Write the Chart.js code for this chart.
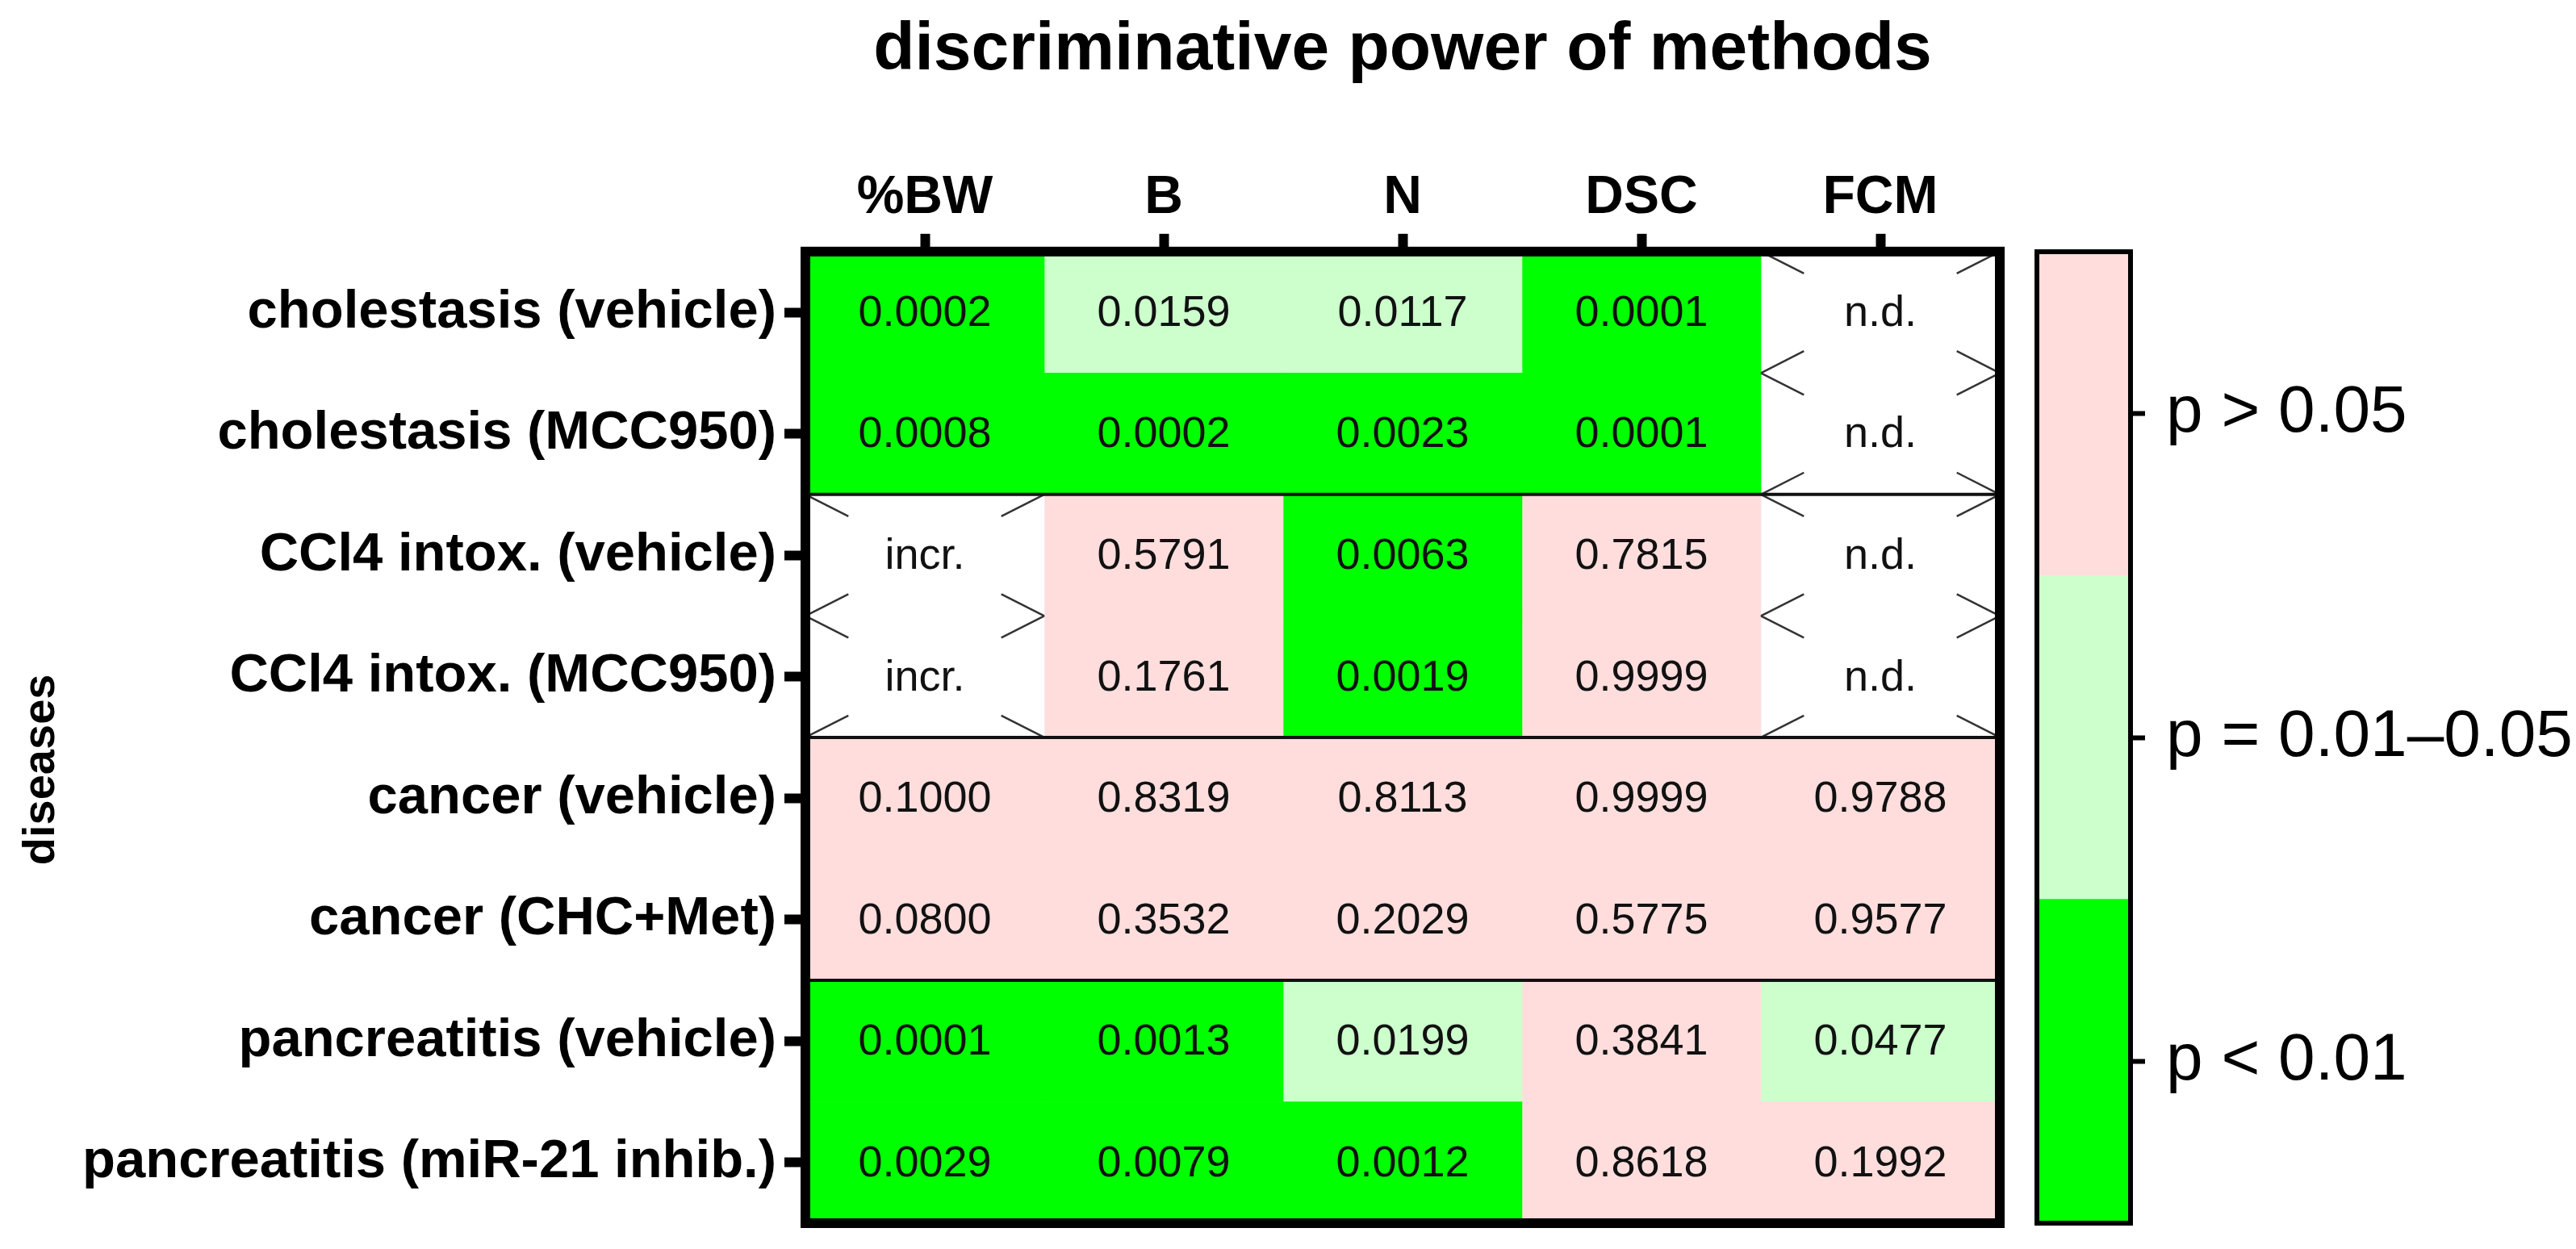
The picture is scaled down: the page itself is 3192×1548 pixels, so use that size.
<!DOCTYPE html>
<html>
<head>
<meta charset="utf-8">
<script src="https://cdn.jsdelivr.net/npm/chart.js@4.4.1/dist/chart.umd.min.js"></script>
<style>
  html, body { margin: 0; padding: 0; background: #fff; }
  #wrap { position: relative; width: 3192px; height: 1548px; }
  #wrap canvas { position: absolute; left: 0; top: 0; }
</style>
</head>
<body>
<div id="wrap">
  <canvas id="chartHeat" width="3192" height="1548"></canvas>
  <canvas id="chartBar" width="3192" height="1548"></canvas>
</div>
<script>
// Datos del heatmap (filas = enfermedades, columnas = métodos)
const diseases = [
  'cholestasis (vehicle)',
  'cholestasis (MCC950)',
  'CCl4 intox. (vehicle)',
  'CCl4 intox. (MCC950)',
  'cancer (vehicle)',
  'cancer (CHC+Met)',
  'pancreatitis (vehicle)',
  'pancreatitis (miR-21 inhib.)'
];
const methods = ['%BW', 'B', 'N', 'DSC', 'FCM'];

const pBW  = [0.0002, 0.0008, null,   null,   0.1000, 0.0800, 0.0001, 0.0029];
const pB   = [0.0159, 0.0002, 0.5791, 0.1761, 0.8319, 0.3532, 0.0013, 0.0079];
const pN   = [0.0117, 0.0023, 0.0063, 0.0019, 0.8113, 0.2029, 0.0199, 0.0012];
const pDSC = [0.0001, 0.0001, 0.7815, 0.9999, 0.9999, 0.5775, 0.3841, 0.8618];
const pFCM = [null,   null,   null,   null,   0.9788, 0.9577, 0.0477, 0.1992];

// textos para celdas sin valor
const noteBW  = [null, null, 'incr.', 'incr.', null, null, null, null];
const noteFCM = ['n.d.', 'n.d.', 'n.d.', 'n.d.', null, null, null, null];

// separadores después de estas filas
const groupBreaks = [1, 3, 5];

// leyenda (de abajo hacia arriba)
const legendLabels = ['p < 0.01', 'p = 0.01\u20130.05', 'p > 0.05'];
const legendBands = [[0, 1], [1, 2], [2, 3]];

const pSeries = [pBW, pB, pN, pDSC, pFCM];
const noteSeries = [noteBW, null, null, null, noteFCM];

const COLORS = {
  strong: '#00ff00',
  weak: '#ccffcc',
  none: '#ffdddd',
  missing: '#ffffff'
};
const legendColors = [COLORS.strong, COLORS.weak, COLORS.none];

const FONT = "'Liberation Sans', Arial, sans-serif";
Chart.defaults.font.family = FONT;
Chart.defaults.color = '#000';

function colorPorP(p) {
  if (p === null) return COLORS.missing;
  if (p < 0.01) return COLORS.strong;
  if (p <= 0.05) return COLORS.weak;
  return COLORS.none;
}

/**
 * Textos, cruces y marco del heatmap
 */
const heatPlugin = {
  id: 'heatPlugin',
  afterDatasetsDraw(chart) {
    const ctx = chart.ctx;
    const area = chart.chartArea;
    const yScale = chart.scales.y;

    chart.data.datasets.forEach((ds, i) => {
      const meta = chart.getDatasetMeta(i);
      meta.data.forEach((bar, k) => {
        const { x, y, base, height } = bar.getProps(['x', 'y', 'base', 'height'], true);
        const left = Math.min(x, base);
        const right = Math.max(x, base);
        const top = y - height / 2;
        const bottom = y + height / 2;
        const cx = (left + right) / 2;
        const p = pSeries[i][k];
        let texto;

        if (p === null) {
          texto = noteSeries[i] ? noteSeries[i][k] : '';
          // brazos de la cruz en las esquinas
          const f = 0.18;
          const esquinas = [[left, top, right, bottom], [right, top, left, bottom],
                            [left, bottom, right, top], [right, bottom, left, top]];
          ctx.save();
          ctx.strokeStyle = '#333';
          ctx.lineWidth = 2.5;
          esquinas.forEach(([x0, y0, x1, y1]) => {
            ctx.beginPath();
            ctx.moveTo(x0, y0);
            ctx.lineTo(x0 + (x1 - x0) * f, y0 + (y1 - y0) * f);
            ctx.stroke();
          });
          ctx.restore();
        } else {
          texto = p.toFixed(4);
        }

        ctx.save();
        ctx.fillStyle = '#111';
        ctx.font = `54px ${FONT}`;
        ctx.textAlign = 'center';
        ctx.textBaseline = 'middle';
        ctx.fillText(texto, cx, y + 2);
        ctx.restore();
      });
    });

    // líneas separadoras entre grupos
    ctx.save();
    ctx.strokeStyle = '#111';
    ctx.lineWidth = 4;
    groupBreaks.forEach(k => {
      const yb = (yScale.getPixelForValue(k) + yScale.getPixelForValue(k + 1)) / 2;
      ctx.beginPath();
      ctx.moveTo(area.left, yb);
      ctx.lineTo(area.right + 4, yb);
      ctx.stroke();
    });
    ctx.restore();
  },
  afterDraw(chart) {
    const ctx = chart.ctx;
    const a = chart.chartArea;
    ctx.save();
    ctx.strokeStyle = '#000';
    ctx.lineWidth = 12;
    ctx.strokeRect(a.left, a.top, a.right - a.left, a.bottom - a.top);

    // título del eje Y (algo por debajo del centro, como en el original)
    ctx.translate(52, (a.top + a.bottom) / 2 + 40);
    ctx.rotate(-Math.PI / 2);
    ctx.fillStyle = '#000';
    ctx.font = `bold 56px ${FONT}`;
    ctx.textAlign = 'center';
    ctx.textBaseline = 'middle';
    ctx.fillText('diseases', 0, 0);
    ctx.restore();
  }
};

const framePlugin = {
  id: 'framePlugin',
  afterDraw(chart) {
    const ctx = chart.ctx;
    const a = chart.chartArea;
    ctx.save();
    ctx.strokeStyle = '#000';
    ctx.lineWidth = 6;
    ctx.strokeRect(a.left, a.top, a.right - a.left, a.bottom - a.top);
    ctx.restore();
  }
};

// Heatmap principal (barras flotantes horizontales)
const chartHeat = new Chart(document.getElementById('chartHeat'), {
  type: 'bar',
  data: {
    labels: diseases,
    datasets: methods.map((m, i) => ({
      label: m,
      data: diseases.map(() => [i - 0.5, i + 0.5]),
      backgroundColor: pSeries[i].map(colorPorP),
      borderWidth: 0,
      grouped: false,
      barPercentage: 1,
      categoryPercentage: 1
    }))
  },
  options: {
    indexAxis: 'y',
    responsive: false,
    animation: false,
    devicePixelRatio: 1,
    layout: { padding: { top: 0, right: 714, bottom: 32, left: 0 } },
    plugins: {
      legend: { display: false },
      tooltip: { enabled: false },
      title: {
        display: true,
        text: 'discriminative power of methods',
        fullSize: false,
        font: { size: 84, weight: 'bold' },
        color: '#000',
        padding: { top: 12, bottom: 12 }
      }
    },
    scales: {
      x: {
        type: 'linear',
        position: 'top',
        min: -0.5,
        max: 4.5,
        afterBuildTicks: s => { s.ticks = methods.map((m, i) => ({ value: i })); },
        afterFit: s => {
          s.height = 187;
          s.paddingLeft = 0;
          s.paddingRight = 0;
        },
        ticks: {
          callback: v => methods[v],
          font: { size: 66, weight: 'bold' },
          color: '#000',
          padding: 4,
          maxRotation: 0,
          autoSkip: false
        },
        grid: { drawOnChartArea: false, tickLength: 22, tickWidth: 12, tickColor: '#000' },
        border: { display: false }
      },
      y: {
        type: 'category',
        afterFit: s => {
          s.width = 998;
          s.paddingTop = 0;
          s.paddingBottom = 0;
        },
        ticks: {
          font: { size: 67, weight: 'bold' },
          color: '#000',
          padding: 10,
          autoSkip: false
        },
        grid: { offset: false, drawOnChartArea: false, tickLength: 26, tickWidth: 12, tickColor: '#000' },
        border: { display: false }
      }
    }
  },
  plugins: [heatPlugin]
});

// Barra de colores (leyenda)
const chartBar = new Chart(document.getElementById('chartBar'), {
  type: 'bar',
  data: {
    labels: [''],
    datasets: legendBands.map((b, i) => ({
      label: legendLabels[i],
      data: [b],
      backgroundColor: legendColors[i],
      borderWidth: 0,
      grouped: false,
      barPercentage: 1,
      categoryPercentage: 1
    }))
  },
  options: {
    responsive: false,
    animation: false,
    devicePixelRatio: 1,
    layout: { padding: { top: 312, right: 0, bottom: 32, left: 2524 } },
    plugins: { legend: { display: false }, tooltip: { enabled: false } },
    scales: {
      x: { display: false },
      y: {
        type: 'linear',
        position: 'right',
        min: 0,
        max: 3,
        afterBuildTicks: s => { s.ticks = legendBands.map(b => ({ value: (b[0] + b[1]) / 2 })); },
        afterFit: s => {
          s.width = 3192 - 2640;
          s.paddingTop = 0;
          s.paddingBottom = 0;
        },
        ticks: {
          callback: (v, idx) => legendLabels[idx],
          font: { size: 82 },
          color: '#000',
          padding: 26
        },
        grid: { drawOnChartArea: false, tickLength: 18, tickWidth: 6, tickColor: '#000' },
        border: { display: false }
      }
    }
  },
  plugins: [framePlugin]
});
</script>
</body>
</html>
